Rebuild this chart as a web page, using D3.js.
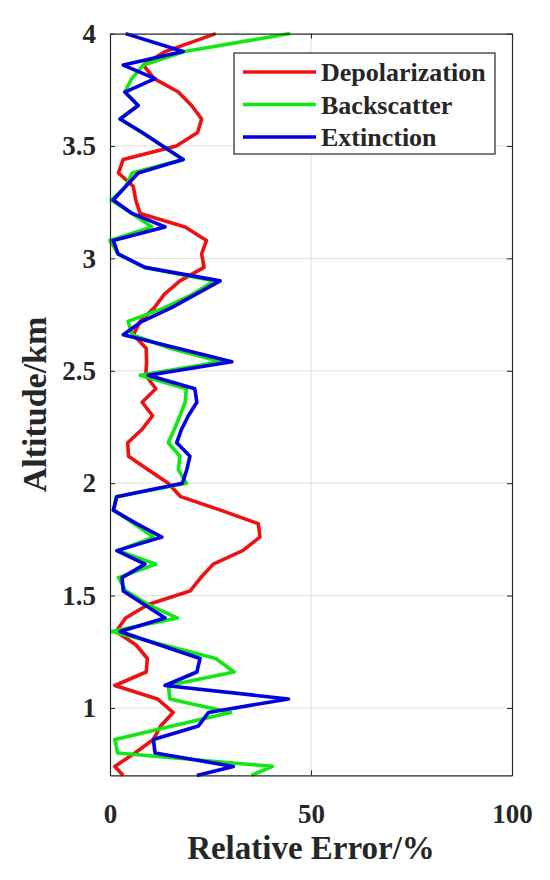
<!DOCTYPE html>
<html>
<head>
<meta charset="utf-8">
<script src="https://cdn.jsdelivr.net/npm/d3@7"></script>
<style>
  body { margin: 0; background: #fff; }
  text { font-family: "Liberation Serif", "Times New Roman", serif; font-weight: bold; fill: #262626; }
</style>
</head>
<body>
<svg id="chart" width="550" height="880"></svg>
<script>
// altitude (km) of each sample, top to bottom
var altitude = [4.00, 3.92, 3.86, 3.80, 3.74, 3.68, 3.62, 3.56, 3.50, 3.44,
  3.38, 3.32, 3.26, 3.20, 3.14, 3.08, 3.02, 2.96, 2.90, 2.84,
  2.78, 2.72, 2.66, 2.60, 2.54, 2.48, 2.42, 2.36, 2.30, 2.24,
  2.18, 2.12, 2.06, 2.00, 1.94, 1.88, 1.82, 1.76, 1.70, 1.64,
  1.58, 1.52, 1.46, 1.40, 1.34, 1.28, 1.22, 1.16, 1.10, 1.04,
  0.98, 0.92, 0.86, 0.80, 0.74, 0.70];

var depolarization = [26.3, 13.7, 8.3, 11.0, 17.0, 20.3, 22.8, 21.8, 16.5, 3.3,
  2.1, 5.8, 6.4, 7.5, 18.7, 24.0, 22.8, 23.4, 17.4, 13.5,
  11.0, 7.5, 5.8, 9.0, 9.1, 8.9, 11.4, 8.0, 10.6, 8.0,
  4.4, 4.6, 9.5, 14.5, 17.6, 27.5, 36.9, 37.3, 33.0, 25.7,
  22.6, 19.9, 9.5, 3.9, 1.5, 6.5, 9.3, 9.0, 1.2, 11.8,
  15.7, 12.6, 10.8, 6.2, 1.2, 3.3];

var backscatter = [44.8, 18.5, 8.3, 5.4, 3.7, 7.0, 2.5, 8.0, 13.1, 18.2,
  5.5, 3.9, 0.3, 5.5, 10.4, 0.0, 2.0, 8.5, 26.0, 20.5,
  13.5, 4.5, 5.5, 15.0, 27.5, 7.5, 19.0, 18.7, 17.4, 16.0,
  14.5, 17.4, 17.0, 19.0, 1.5, 1.0, 6.0, 10.8, 2.0, 11.4,
  2.1, 4.0, 9.5, 16.8, 0.4, 13.4, 26.3, 30.9, 14.5, 14.9,
  30.0, 15.5, 1.2, 1.9, 40.4, 35.2];

var extinction = [3.9, 18.2, 3.3, 11.2, 3.7, 7.0, 2.5, 8.0, 13.1, 18.2,
  7.0, 3.9, 0.8, 5.5, 13.7, 0.8, 2.0, 8.7, 27.4, 21.3,
  15.2, 8.0, 3.3, 16.8, 30.3, 9.5, 21.1, 21.6, 19.5, 17.8,
  16.6, 19.9, 19.1, 18.0, 1.7, 0.8, 6.6, 12.9, 1.7, 8.7,
  3.0, 3.3, 8.5, 13.7, 2.5, 12.4, 22.4, 21.6, 13.7, 44.4,
  24.5, 22.0, 10.8, 11.2, 30.7, 21.6];

var seriesNames = ["Depolarization", "Backscatter", "Extinction"];
var seriesColors = ["#ee1111", "#11e811", "#0000e0"];
var xTicks = [0, 50, 100];
var yTicks = [1, 1.5, 2, 2.5, 3, 3.5, 4];

var svg = d3.select("#chart");
var pLeft = 110, pRight = 512, pTop = 33.6, pBottom = 775.4;

var x = d3.scaleLinear().domain([0, 100]).range([pLeft, pRight]);
var y = d3.scaleLinear().domain([0.7, 4]).range([pBottom, pTop]);

// grid
var grid = svg.append("g").attr("stroke", "#dedede").attr("stroke-width", 1);
grid.selectAll(".gx").data(xTicks.slice(1, -1)).enter().append("line")
  .attr("x1", function(d) { return x(d); }).attr("x2", function(d) { return x(d); })
  .attr("y1", pTop).attr("y2", pBottom);
grid.selectAll(".gy").data(yTicks.slice(0, -1)).enter().append("line")
  .attr("x1", pLeft).attr("x2", pRight)
  .attr("y1", function(d) { return y(d); }).attr("y2", function(d) { return y(d); });

// lines
var series = [depolarization, backscatter, extinction];
var line = d3.line()
  .x(function(d) { return x(d[0]); })
  .y(function(d) { return y(d[1]); });

series.forEach(function(vals, i) {
  var pts = vals.map(function(v, j) { return [v, altitude[j]]; });
  svg.append("path")
    .attr("d", line(pts))
    .attr("fill", "none")
    .attr("stroke", seriesColors[i])
    .attr("stroke-width", 3.6)
    .attr("stroke-linejoin", "round");
});

// axes (ticks pointing inward, box on)
function styleAxis(g) {
  g.select(".domain").attr("stroke", "#262626").attr("stroke-width", 1.2);
  g.selectAll(".tick line").attr("stroke", "#262626");
  g.selectAll("text").attr("font-family", null).attr("font-size", null);
}

svg.append("g").attr("transform", "translate(0," + pBottom + ")")
  .call(d3.axisBottom(x).tickValues(xTicks).tickSize(-5).tickSizeOuter(0).tickPadding(27))
  .call(styleAxis)
  .selectAll("text").style("font-size", "27px").attr("dy", "0.78em");

svg.append("g").attr("transform", "translate(0," + pTop + ")")
  .call(d3.axisTop(x).tickValues(xTicks).tickSize(-5).tickSizeOuter(0).tickFormat(""))
  .call(styleAxis);

svg.append("g").attr("transform", "translate(" + pLeft + ",0)")
  .call(d3.axisLeft(y).tickValues(yTicks).tickSize(-5).tickSizeOuter(0).tickPadding(14)
    .tickFormat(d3.format("~g")))
  .call(styleAxis)
  .selectAll("text").style("font-size", "27px");

svg.append("g").attr("transform", "translate(" + pRight + ",0)")
  .call(d3.axisRight(y).tickValues(yTicks).tickSize(-5).tickSizeOuter(0).tickFormat(""))
  .call(styleAxis);

// axis titles
svg.append("text")
  .attr("x", (pLeft + pRight) / 2).attr("y", 859)
  .attr("text-anchor", "middle")
  .style("font-size", "33px")
  .text("Relative Error/%");

svg.append("text")
  .attr("transform", "translate(46," + (pTop + pBottom) / 2 + ") rotate(-90)")
  .attr("text-anchor", "middle")
  .style("font-size", "34px")
  .text("Altitude/km");

// legend
var legend = svg.append("g");
legend.append("rect")
  .attr("x", 234).attr("y", 53).attr("width", 261).attr("height", 101)
  .attr("fill", "#fff").attr("stroke", "#262626").attr("stroke-width", 1.2);

var item = legend.selectAll(".item").data(seriesNames).enter().append("g")
  .attr("transform", function(d, i) { return "translate(0," + (72 + i * 32.5) + ")"; });
item.append("line")
  .attr("x1", 243).attr("x2", 316)
  .attr("stroke", function(d, i) { return seriesColors[i]; })
  .attr("stroke-width", 3.6);
item.append("text")
  .attr("x", 321).attr("dy", "0.35em")
  .style("font-size", "26px")
  .text(function(d) { return d; });
</script>
</body>
</html>
